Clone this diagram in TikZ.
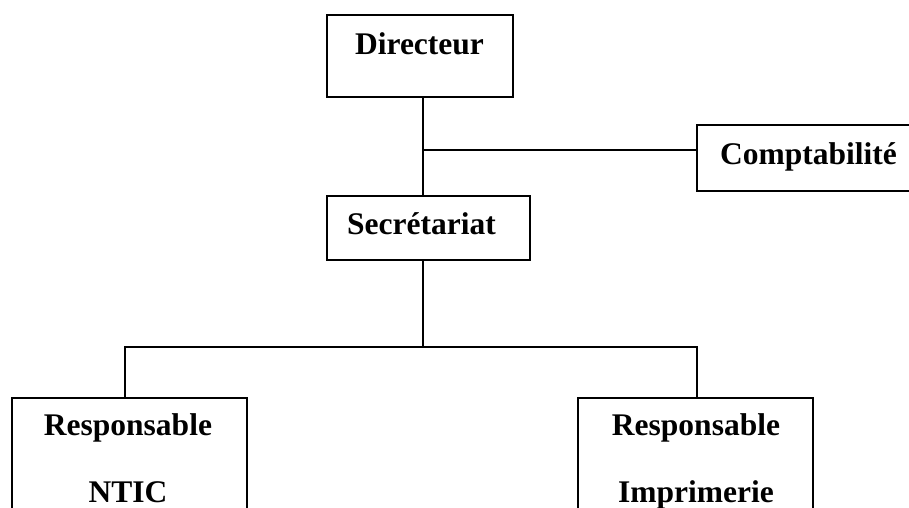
\documentclass[tikz,border=0pt]{standalone}
\usepackage{fontspec}
\setmainfont{Liberation Serif}
\begin{document}
\begin{tikzpicture}[x=1pt,y=-1pt,
  box/.style={draw, line width=1.8pt, rectangle, inner sep=0pt},
  lbl/.style={anchor=base, inner sep=0pt, font=\fontsize{31.5}{36}\selectfont\bfseries},
  conn/.style={line width=1.6pt}]
\useasboundingbox (0,0) rectangle (909,507);
\fill[white] (0,0) rectangle (909,507);
\clip (0,0) rectangle (909,507);
% boxes
\node[box, minimum width=186pt, minimum height=82pt] (dir) at (420,56) {};
\node[box, minimum width=203pt, minimum height=64pt] (sec) at (428.5,228) {};
\node[box, minimum width=226pt, minimum height=66pt] (comp) at (810,158) {};
\node[box, minimum width=235pt, minimum height=140pt] (ntic) at (129.5,468) {};
\node[box, minimum width=235pt, minimum height=140pt] (impr) at (695.5,468) {};
% texts
\node[lbl] (dirT) at (419.5,54) {Directeur};
\node[lbl] (secT) at (421.5,234) {Secrétariat};
\node[lbl] (compT) at (808.5,164) {Comptabilité};
\node[lbl] (nticA) at (128,435) {Responsable};
\node[lbl] (nticB) at (128,502) {NTIC};
\node[lbl] (imprA) at (696,435) {Responsable};
\node[lbl] (imprB) at (696,502) {Imprimerie};
% connectors
\coordinate (j1) at (423,150);
\coordinate (j2) at (423,347);
\coordinate (jl) at (125,347);
\coordinate (jr) at (697,347);
\draw[conn] (dir.south -| j1) -- (sec.north -| j1);
\draw[conn] (j1) -- (j1 -| comp.west);
\draw[conn] (sec.south -| j2) -- (j2);
\draw[conn] (ntic.north -| jl) -- (jl) -- (jr) -- (impr.north -| jr);
\end{tikzpicture}
\end{document}
